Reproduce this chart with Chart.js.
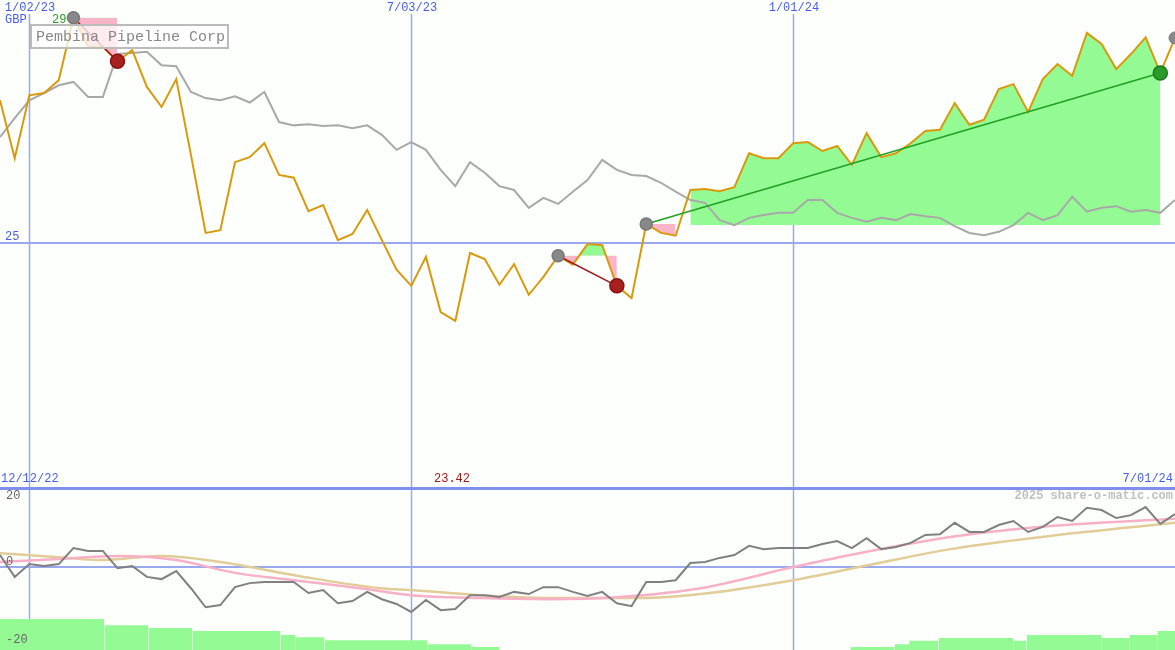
<!DOCTYPE html>
<html>
<head>
<meta charset="utf-8">
<script src="https://cdn.jsdelivr.net/npm/chart.js@4"></script>
<style>
  body { margin: 0; background: #fcfffc; }
  #top { position: absolute; left: 0; top: 0; }
  #bot { position: absolute; left: 0; top: 487px; }
</style>
</head>
<body>
<canvas id="top" width="1175" height="487"></canvas>
<canvas id="bot" width="1175" height="163"></canvas>
<script>
// weekly closes, GBP
const price = [27.56, 26.52, 27.65, 27.69, 27.92, 29.04, 28.52, 28.52, 28.26, 28.46,
  27.80, 27.44, 27.94, 26.58, 25.18, 25.23, 26.45, 26.54, 26.79, 26.22,
  26.17, 25.57, 25.68, 25.05, 25.16, 25.59, 25.05, 24.52, 24.23, 24.75,
  23.76, 23.60, 24.82, 24.71, 24.25, 24.62, 24.07, 24.39, 24.77, 24.61,
  24.98, 24.96, 24.23, 24.01, 25.34, 25.18, 25.13, 25.95, 25.97, 25.93,
  26.00, 26.61, 26.52, 26.52, 26.79, 26.81, 26.65, 26.74, 26.40, 26.97,
  26.54, 26.61, 26.79, 27.01, 27.03, 27.51, 27.12, 27.21, 27.76, 27.85,
  27.35, 27.94, 28.21, 28.00, 28.77, 28.57, 28.12, 28.39, 28.69, 28.05, 28.68];
// relative to index (same scale)
const relative = [26.90, 27.24, 27.56, 27.69, 27.83, 27.89, 27.62, 27.62, 28.39, 28.41,
  28.43, 28.19, 28.17, 27.71, 27.60, 27.56, 27.63, 27.52, 27.71, 27.17,
  27.11, 27.13, 27.10, 27.11, 27.06, 27.11, 26.94, 26.67, 26.81, 26.67,
  26.31, 26.02, 26.45, 26.26, 26.02, 25.95, 25.63, 25.81, 25.70, 25.92,
  26.13, 26.49, 26.31, 26.22, 26.20, 26.08, 25.92, 25.77, 25.72, 25.41,
  25.32, 25.45, 25.50, 25.54, 25.54, 25.77, 25.77, 25.54, 25.45, 25.38,
  25.45, 25.41, 25.52, 25.48, 25.45, 25.30, 25.18, 25.14, 25.20, 25.32,
  25.54, 25.41, 25.50, 25.83, 25.56, 25.63, 25.66, 25.56, 25.59, 25.54, 25.77];
// momentum (lower panel)
const momentum = [3.3, -2.7, 0.8, 0.3, 0.8, 5.2, 4.4, 4.4, -0.3, 0.3,
  -2.7, -3.3, -1.1, -5.8, -11.0, -10.4, -5.5, -4.4, -4.1, -4.1,
  -4.1, -7.1, -6.3, -9.9, -9.3, -6.8, -8.8, -10.1, -12.3, -9.0,
  -11.8, -11.5, -7.7, -7.7, -8.2, -6.8, -7.4, -5.5, -5.5, -6.8,
  -7.9, -6.8, -9.9, -10.7, -4.1, -4.1, -3.6, 1.1, 1.4, 2.5,
  3.3, 5.8, 4.9, 5.2, 5.2, 5.2, 6.3, 7.1, 5.2, 7.9,
  4.9, 5.5, 6.6, 8.8, 9.0, 12.1, 9.6, 9.6, 11.5, 12.6,
  9.6, 11.0, 13.7, 12.6, 16.2, 15.6, 13.4, 14.2, 16.4, 11.8, 14.5];
// moving averages of momentum: [week, value]
const maFast = [[0, 1.4], [4, 2.2], [8, 3.0], [12, 1.9], [16, -1.6], [20, -3.6], [24.5, -5.8],
  [28, -7.7], [32.7, -8.5], [37.4, -8.8], [42.2, -8.2], [47.7, -5.8], [54, 0],
  [57.9, 3.3], [64.7, 8.2], [71.5, 11.2], [80, 13.2]];
const maSlow = [[0, 3.8], [4, 2.7], [6.8, 1.9], [10.9, 3.0], [15, 1.4], [20.4, -2.5], [25.9, -5.8],
  [28, -6.3], [32.7, -7.7], [38.1, -8.5], [43.6, -8.5], [47.7, -7.4], [54, -3.6],
  [58.5, 0], [64.7, 4.9], [71.5, 8.5], [80, 12.1]];
// histogram steps: [from week, to week, value]
const bars = [[0, 7.1, -14.2], [7.1, 10.1, -15.9], [10.1, 13.1, -16.7], [13.1, 19.1, -17.5],
  [19.1, 20.1, -18.6], [20.1, 22.1, -19.2], [22.1, 29.1, -20.0], [29.1, 32.1, -21.1], [32.1, 34, -21.9],
  [57.9, 60.9, -21.9], [60.9, 61.9, -21.1], [61.9, 63.9, -20.2], [63.9, 69, -19.4], [69, 69.9, -20.2],
  [69.9, 75, -18.6], [75, 76.9, -19.4], [76.9, 78.8, -18.6], [78.8, 80, -17.5]];
// signal segments: [startWeek, endWeek, level]
const signals = [[5, 8, 29.04], [38, 42, 24.77], [44, 46, 25.34], [47, 79, 25.32]];
// trend lines: [from, to, colour]
const trends = [[5, 8, '#a01818'], [38, 42, '#a01818'], [44, 79, '#22a022']];
const dateLabels = [[2, '1/02/23'], [28, '7/03/23'], [54, '1/01/24']];

const BLUE = '#4a5cf0', GRID = '#9aa8ee';

const pts = arr => arr.map((v, i) => ({ x: i, y: v }));
const part = (a, b) => price.map((v, i) => ({ x: i, y: (i >= a && i <= b) ? v : null }));

const datasets = [];
signals.forEach(s => datasets.push({
  data: part(s[0], s[1]), borderWidth: 0, pointRadius: 0, order: 10,
  fill: { value: s[2], above: '#94fb94', below: '#f9b4c8' }
}));
datasets.push({ data: pts(relative), borderColor: '#a8a8a8', borderWidth: 2, pointRadius: 0, order: 3 });
datasets.push({ data: pts(price), borderColor: '#d89a0c', borderWidth: 2, pointRadius: 0, order: 2 });
trends.forEach(t => datasets.push({
  data: [{ x: t[0], y: price[t[0]] }, { x: t[1], y: price[t[1]] }],
  borderColor: t[2], borderWidth: 1.5, order: 1,
  pointRadius: [6, 7], pointBackgroundColor: ['#888', t[2] === '#22a022' ? '#2a9a2a' : '#a82020'],
  pointBorderColor: ['#777', t[2] === '#22a022' ? '#1a7a1a' : '#8a1010']
}));
datasets.push({ data: [{ x: 80, y: price[80] }], pointRadius: 6, pointBackgroundColor: '#888', pointBorderColor: '#777', showLine: false, order: 0 });

const grid = {
  id: 'grid',
  beforeDatasetsDraw(chart, args, o) {
    const c = chart.ctx, x = chart.scales.x, y = chart.scales.y;
    c.save();
    c.strokeStyle = GRID; c.lineWidth = 1.5;
    dateLabels.forEach(d => {
      const px = Math.round(x.getPixelForValue(d[0])) + 0.5;
      c.beginPath(); c.moveTo(px, o.top0); c.lineTo(px, chart.height); c.stroke();
    });
    c.lineWidth = 2;
    const py = Math.round(y.getPixelForValue(o.hline));
    c.beginPath(); c.moveTo(0, py); c.lineTo(chart.width, py); c.stroke();
    c.restore();
  },
  afterDraw(chart, args, o) {
    const c = chart.ctx;
    c.save();
    c.font = '12px "Liberation Mono", monospace';
    c.textBaseline = 'middle';
    o.texts.forEach(t => {
      c.fillStyle = t.c; c.textAlign = t.a || 'left';
      if (t.f) c.font = t.f;
      c.fillText(t.s, t.x, t.y);
    });
    if (o.box) {
      c.fillStyle = 'rgba(255,255,255,0.75)';
      c.fillRect(31, 25, 197, 23);
      c.strokeStyle = '#bbb'; c.lineWidth = 2;
      c.strokeRect(31, 25, 197, 23);
      c.fillStyle = '#888'; c.font = '15px "Liberation Mono", monospace';
      c.textAlign = 'left';
      c.fillText('Pembina Pipeline Corp', 36, 37);
    }
    c.restore();
  }
};

const base = {
  animation: false, responsive: false, devicePixelRatio: 1,
  layout: { padding: 0, autoPadding: false },
  plugins: { legend: { display: false }, tooltip: { enabled: false } },
  elements: { line: { tension: 0 } }
};

new Chart(document.getElementById('top'), {
  type: 'line',
  data: { datasets },
  options: {
    ...base,
    scales: {
      x: { type: 'linear', min: 0, max: 80, display: false },
      y: { min: 20.62, max: 29.36, display: false }
    },
    plugins: {
      ...base.plugins,
      grid: {
        top0: 14, hline: 25, box: true,
        texts: [
          ...dateLabels.map(d => ({ s: d[1], x: 30 + (d[0] - 2) * 14.69, y: 8, c: BLUE, a: 'center' })),
          { s: 'GBP', x: 5, y: 20, c: BLUE },
          { s: '29', x: 52, y: 20, c: '#2a9a2a' },
          { s: '25', x: 5, y: 237, c: BLUE },
          { s: '12/12/22', x: 1, y: 479, c: BLUE },
          { s: '23.42', x: 434, y: 479, c: '#a01818' },
          { s: '7/01/24', x: 1173, y: 479, c: BLUE, a: 'right' }
        ]
      }
    }
  },
  plugins: [grid]
});

const barSets = bars.map(b => ({
  data: [{ x: b[0], y: b[2] }, { x: b[1], y: b[2] }],
  borderWidth: 0, pointRadius: 0, fill: 'start', backgroundColor: '#94fb94', order: 4
}));

new Chart(document.getElementById('bot'), {
  type: 'line',
  data: {
    datasets: [
      { data: pts(momentum), borderColor: '#808080', borderWidth: 2, pointRadius: 0, order: 1 },
      { data: maFast.map(p => ({ x: p[0], y: p[1] })), borderColor: '#f8b0c8', borderWidth: 2.5, pointRadius: 0, tension: 0.4, cubicInterpolationMode: 'monotone', order: 2 },
      { data: maSlow.map(p => ({ x: p[0], y: p[1] })), borderColor: '#e2cc98', borderWidth: 2.5, pointRadius: 0, tension: 0.4, cubicInterpolationMode: 'monotone', order: 3 },
      ...barSets
    ]
  },
  options: {
    ...base,
    scales: {
      x: { type: 'linear', min: 0, max: 80, display: false },
      y: { min: -22.7, max: 21.9, display: false }
    },
    plugins: {
      ...base.plugins,
      grid: {
        top0: 0, hline: 0, box: false,
        texts: [
          { s: '20', x: 6, y: 9, c: '#666' },
          { s: '0', x: 6, y: 75, c: '#666' },
          { s: '-20', x: 6, y: 153, c: '#666' },
          { s: '2025 share-o-matic.com', x: 1173, y: 9, c: '#c0c0c0', a: 'right', f: 'bold 12px "Liberation Mono", monospace' }
        ]
      }
    }
  },
  plugins: [grid, {
    id: 'topline',
    afterDraw(chart) {
      const c = chart.ctx;
      c.fillStyle = '#7f8ff0';
      c.fillRect(0, 0, chart.width, 3);
    }
  }]
});
</script>
</body>
</html>
